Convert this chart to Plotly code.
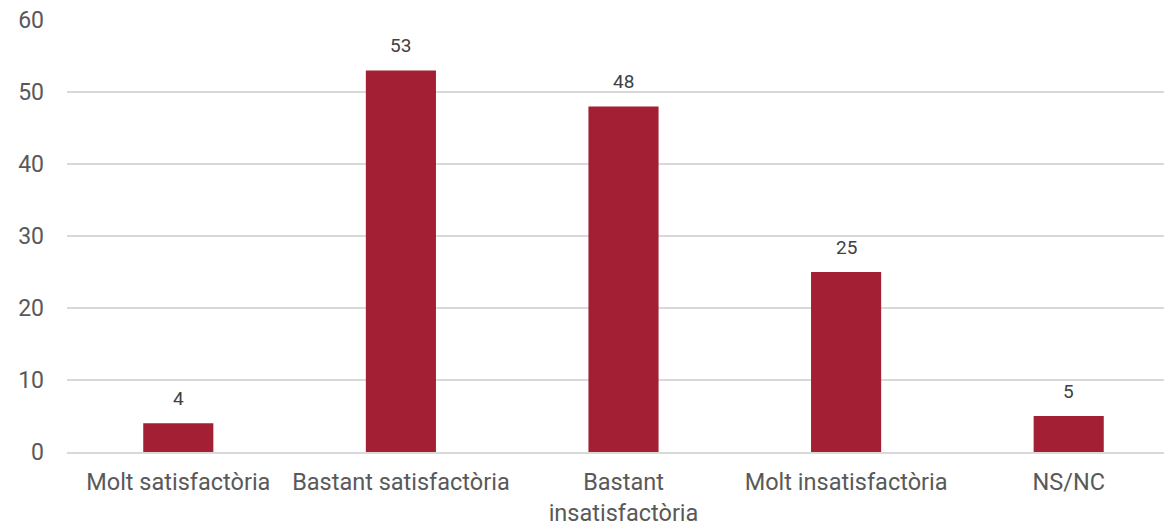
import plotly.graph_objects as go

categories = ["Molt satisfactòria", "Bastant satisfactòria", "Bastant<br>insatisfactòria",
              "Molt insatisfactòria", "NS/NC"]
values = [4, 53, 48, 25, 5]
y_ticks = [0, 10, 20, 30, 40, 50, 60]

fig = go.Figure()
fig.add_trace(go.Bar(x=categories, y=values, marker=dict(color="#A31F34", line=dict(width=0)),
                     width=0.315))

for c, v in zip(categories, values):
    fig.add_annotation(x=c, y=v, text=str(v), showarrow=False, yanchor="bottom", yshift=11,
                       font=dict(family="Roboto", size=19, color="#404040"))

fig.update_layout(
    width=1180, height=524,
    margin=dict(l=67, r=0, t=20, b=72),
    paper_bgcolor="white", plot_bgcolor="white",
    showlegend=False,
    font=dict(family="Roboto", color="#595959"),
)
fig.update_yaxes(range=[0, 60], tickvals=y_ticks, showgrid=True, gridcolor="#D9D9D9", gridwidth=1.5,
                 zeroline=False, showline=False, tickfont=dict(size=23, color="#595959"),
                 ticklabelstandoff=22, automargin=False)
fig.update_xaxes(showline=True, linecolor="#D9D9D9", linewidth=1.5, tickfont=dict(size=23.5, color="#595959"),
                 ticklabelstandoff=8, automargin=False)

fig.write_html("out.html", config={"displayModeBar": False},
               post_script="document.body.style.margin='0';document.body.style.overflow='hidden';")
